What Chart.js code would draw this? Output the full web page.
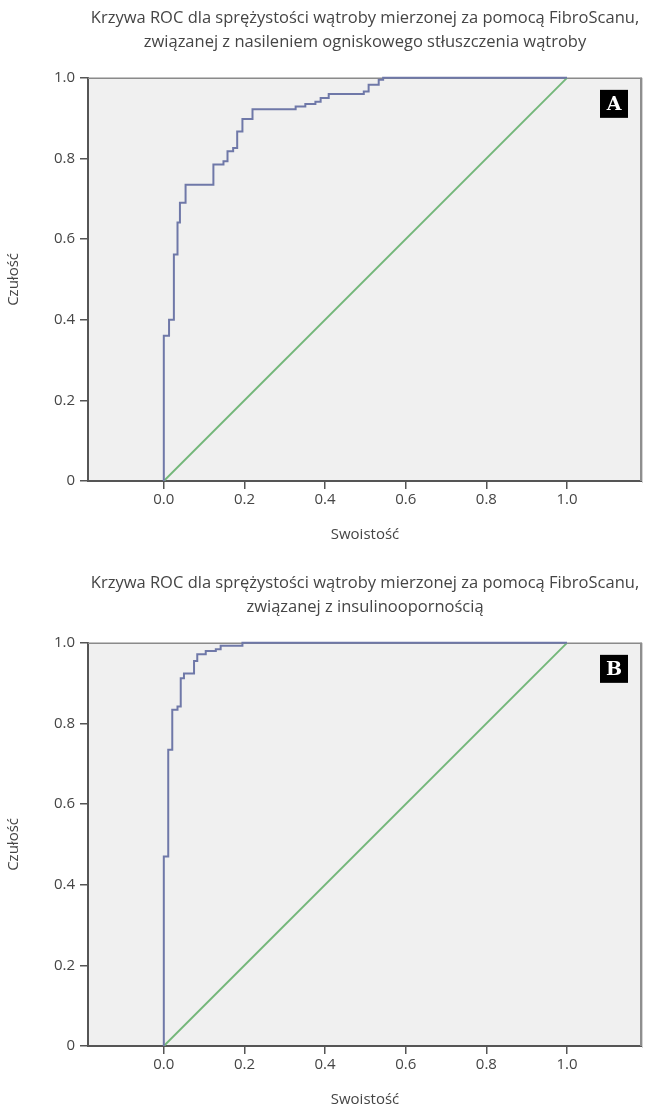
<!DOCTYPE html>
<html>
<head>
<meta charset="utf-8">
<script src="https://cdn.jsdelivr.net/npm/chart.js@4"></script>
<style>
  html, body { margin: 0; padding: 0; background: #ffffff; }
  body { width: 646px; height: 1111px; position: relative; overflow: hidden; }
  canvas { position: absolute; left: 0; }
  #cA { top: 0; }
  #cB { top: 565px; }
</style>
</head>
<body>
<canvas id="cA" width="646" height="546"></canvas>
<canvas id="cB" width="646" height="546"></canvas>
<script>
// ---- Data ----
const titleA = ['Krzywa ROC dla sprężystości wątroby mierzonej za pomocą FibroScanu,', 'związanej z nasileniem ogniskowego stłuszczenia wątroby'];
const titleB = ['Krzywa ROC dla sprężystości wątroby mierzonej za pomocą FibroScanu,', 'związanej z insulinoopornością'];
const xAxisTitle = 'Swoistość';
const yAxisTitle = 'Czułość';
const xTickValues = [0.0, 0.2, 0.4, 0.6, 0.8, 1.0];
const yTickValues = [0, 0.2, 0.4, 0.6, 0.8, 1.0];

// Panel A ROC curve (step corners)
const rocA_x = [0, 0, 0.013, 0.025, 0.034, 0.040, 0.054, 0.123, 0.148, 0.158, 0.172, 0.182, 0.195, 0.220, 0.327, 0.351, 0.376, 0.389, 0.409, 0.496, 0.508, 0.533, 0.544, 1.0];
const rocA_y = [0, 0.360, 0.400, 0.562, 0.641, 0.690, 0.735, 0.785, 0.793, 0.818, 0.826, 0.867, 0.898, 0.922, 0.929, 0.935, 0.941, 0.950, 0.960, 0.966, 0.983, 0.995, 1.0, 1.0];

// Panel B ROC curve (step corners)
const rocB_x = [0, 0, 0.011, 0.021, 0.034, 0.042, 0.050, 0.075, 0.083, 0.104, 0.129, 0.141, 0.195, 1.0];
const rocB_y = [0, 0.470, 0.735, 0.834, 0.842, 0.912, 0.924, 0.955, 0.972, 0.980, 0.984, 0.993, 1.0, 1.0];

// Reference diagonal
const diag_x = [0, 1];
const diag_y = [0, 1];

const panelLabels = ['A', 'B'];

// ---- Drawing ----
const FONT = '"Open Sans", "Noto Sans", sans-serif';
const TEXT = '#454545';
const AXIS = '#555555';

const decorPlugin = {
  id: 'decor',
  beforeDraw(chart) {
    const { ctx, chartArea: a } = chart;
    ctx.save();
    ctx.fillStyle = '#f0f0f0';
    ctx.fillRect(a.left, a.top, a.right - a.left, a.bottom - a.top);
    ctx.restore();
  },
  beforeDatasetsDraw(chart) {
    const { ctx, chartArea: a } = chart;
    ctx.save();
    // top frame line
    ctx.strokeStyle = '#8a8a8a';
    ctx.lineWidth = 1.5;
    ctx.beginPath();
    ctx.moveTo(a.left, a.top + 0.5);
    ctx.lineTo(a.right, a.top + 0.5);
    ctx.stroke();
    // right frame line
    ctx.strokeStyle = '#8e8e8e';
    ctx.lineWidth = 2;
    ctx.beginPath();
    ctx.moveTo(a.right - 1, a.top);
    ctx.lineTo(a.right - 1, a.bottom);
    ctx.stroke();
    ctx.strokeStyle = '#d4d4d4';
    ctx.lineWidth = 1;
    ctx.beginPath();
    ctx.moveTo(a.right + 0.5, a.top);
    ctx.lineTo(a.right + 0.5, a.bottom + 2);
    ctx.stroke();
    ctx.restore();
  },
  afterDraw(chart, args, opts) {
    const { ctx, chartArea: a } = chart;
    ctx.save();
    const bx = a.right - 42, by = a.top + 12, bs = 28;
    ctx.fillStyle = '#000000';
    ctx.fillRect(bx, by, bs, bs);
    ctx.fillStyle = '#ffffff';
    ctx.font = 'bold 19px "DejaVu Serif", "Liberation Serif", serif';
    ctx.textAlign = 'center';
    ctx.textBaseline = 'middle';
    ctx.fillText(opts.label, bx + bs / 2, by + bs / 2 + 1);
    ctx.restore();
  }
};

function makeChart(id, titleLines, cx, cy, label) {
  const pts = cx.map((v, i) => ({ x: v, y: cy[i] }));
  const dpts = diag_x.map((v, i) => ({ x: v, y: diag_y[i] }));
  return new Chart(document.getElementById(id), {
    type: 'scatter',
    data: {
      datasets: [
        {
          data: dpts,
          showLine: true,
          borderColor: '#74b77a',
          borderWidth: 2,
          pointRadius: 0,
          order: 2
        },
        {
          data: pts,
          showLine: true,
          stepped: 'before',
          borderColor: '#6f78a8',
          borderWidth: 2,
          pointRadius: 0,
          clip: 3,
          order: 1
        }
      ]
    },
    options: {
      responsive: false,
      animation: false,
      devicePixelRatio: 1,
      layout: { padding: { left: 0, right: 4, top: 0, bottom: 0 } },
      plugins: {
        legend: { display: false },
        tooltip: { enabled: false },
        title: {
          display: true,
          text: titleLines,
          fullSize: false,
          color: TEXT,
          font: { family: FONT, size: 16.5, weight: 'normal', lineHeight: 1.45 },
          padding: { top: 6, bottom: 24 }
        },
        decor: { label: label }
      },
      scales: {
        x: {
          type: 'linear',
          min: -0.188,
          max: 1.186,
          afterBuildTicks: s => { s.ticks = xTickValues.map(v => ({ value: v })); },
          afterFit: s => { s.height = 65; },
          grid: { display: true, drawOnChartArea: false, drawTicks: true, tickLength: 8, color: AXIS, lineWidth: 1.5 },
          border: { display: true, color: AXIS, width: 2 },
          ticks: {
            color: TEXT,
            padding: 2,
            font: { family: FONT, size: 15 },
            callback: v => Number(v).toFixed(1)
          },
          title: {
            display: true,
            text: xAxisTitle,
            color: TEXT,
            font: { family: FONT, size: 15 },
            padding: { top: 4, bottom: 2 }
          }
        },
        y: {
          type: 'linear',
          min: 0,
          max: 1,
          afterBuildTicks: s => { s.ticks = yTickValues.map(v => ({ value: v })); },
          afterFit: s => { s.width = 88; },
          grid: { display: true, drawOnChartArea: false, drawTicks: true, tickLength: 8, color: AXIS, lineWidth: 1.5 },
          border: { display: true, color: AXIS, width: 2 },
          ticks: {
            color: TEXT,
            padding: 5,
            font: { family: FONT, size: 15 },
            callback: v => (v === 0 ? '0' : Number(v).toFixed(1))
          },
          title: {
            display: true,
            text: yAxisTitle,
            color: TEXT,
            font: { family: FONT, size: 15 },
            padding: { top: 5, bottom: 0 }
          }
        }
      }
    },
    plugins: [decorPlugin]
  });
}

makeChart('cA', titleA, rocA_x, rocA_y, panelLabels[0]);
makeChart('cB', titleB, rocB_x, rocB_y, panelLabels[1]);
</script>
</body>
</html>
